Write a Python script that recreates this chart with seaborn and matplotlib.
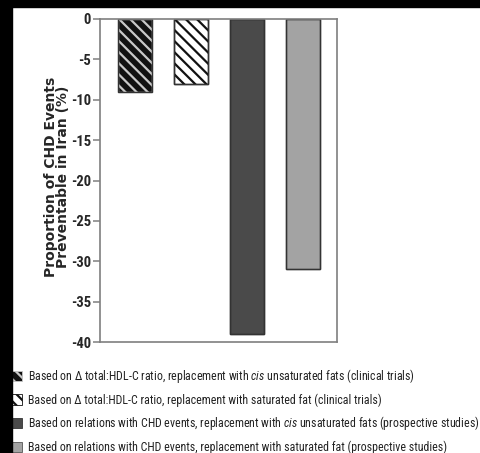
import matplotlib
matplotlib.use("Agg")
import matplotlib.pyplot as plt
import matplotlib.patches as mpatches
from matplotlib import font_manager
import seaborn as sns
import pandas as pd

# ---- data -------------------------------------------------------------
categories = ["cis_trials", "sat_trials", "cis_prospective", "sat_prospective"]
values = [-9, -8, -39, -31]
legend_labels = [
    r"Based on Δ total:HDL-C ratio, replacement with $\it{cis}$ unsaturated fats (clinical trials)",
    r"Based on Δ total:HDL-C ratio, replacement with saturated fat (clinical trials)",
    r"Based on relations with CHD events, replacement with $\it{cis}$ unsaturated fats (prospective studies)",
    r"Based on relations with CHD events, replacement with saturated fat (prospective studies)",
]
y_ticks = [0, -5, -10, -15, -20, -25, -30, -35, -40]
y_label = "Proportion of CHD Events\nPreventable in Iran (%)"

# ---- styles -----------------------------------------------------------
face_colors = ["#111111", "#ffffff", "#4a4a4a", "#a3a3a3"]
hatch_colors = ["#c8c8c8", "#111111", "#333333", "#555555"]
hatches = ["\\\\\\", "\\\\\\", "", ""]

sns.set_style("white")
available = {f.name for f in font_manager.fontManager.ttflist}
narrow = "DejaVu Sans"
for cand in ["Liberation Sans Narrow", "Arial Narrow", "Roboto Condensed",
             "Archivo Narrow", "PT Sans Narrow", "Sofia Sans Condensed"]:
    if cand in available:
        narrow = cand
        break
plt.rcParams["font.family"] = [narrow, "DejaVu Sans"]
plt.rcParams["axes.unicode_minus"] = False
plt.rcParams["hatch.linewidth"] = 1.6
plt.rcParams["mathtext.fontset"] = "custom"
plt.rcParams["mathtext.rm"] = narrow
plt.rcParams["mathtext.it"] = narrow + ":italic"

df = pd.DataFrame({"group": categories, "value": values})

fig = plt.figure(figsize=(4.81, 4.53), dpi=100)
ax = fig.add_axes([100 / 481, 1 - 342 / 453, 237 / 481, 323 / 453])

sns.barplot(data=df, x="group", y="value", hue="group", order=categories,
            hue_order=categories, palette=face_colors, legend=False,
            width=0.607, saturation=1, ax=ax)

for patch, fc, hc, h in zip(ax.patches, face_colors, hatch_colors, hatches):
    patch.set_facecolor(fc)
    patch.set_edgecolor(hc)
    patch.set_hatch(h)
    patch.set_linewidth(1.0)
    # dark outline around each bar
    ax.add_patch(mpatches.Rectangle((patch.get_x(), patch.get_y()),
                                    patch.get_width(), patch.get_height(),
                                    fill=False, edgecolor="#333333",
                                    linewidth=1.0, zorder=patch.get_zorder() + 0.1))

ax.set_xlim(-0.625, 3.616)
ax.set_ylim(-40, 0)
ax.set_xticks([])
ax.set_xlabel("")
ax.set_yticks(y_ticks)
ax.set_yticklabels([str(t) for t in y_ticks], fontsize=10.5, fontweight="bold")
ax.tick_params(axis="y", direction="out", length=5, width=1.1,
               color="#7f7f7f", pad=1.5, left=True)
for s in ax.spines.values():
    s.set_visible(True)
    s.set_color("#7f7f7f")
    s.set_linewidth(1.2)

ax.set_ylabel(y_label, fontsize=10, fontweight="bold", family="DejaVu Sans",
              va="center", linespacing=0.88)
ax.yaxis.set_label_coords(-0.182, 0.51)

# size the legend text so the longest line spans about 420 px
renderer = fig.canvas.get_renderer()
probe = fig.text(0, 0, legend_labels[3], fontsize=10)
probe_w = probe.get_window_extent(renderer).width
probe.remove()
leg_fs = 10 * 414 / probe_w
probe = fig.text(0, 0, "Based on (", fontsize=leg_fs)
text_h = probe.get_window_extent(renderer).height
probe.remove()
fs_px = leg_fs * 100 / 72
handle_h = 11
row_h = max(text_h, handle_h)

handles = [mpatches.Patch(facecolor=fc, edgecolor=hc, hatch=h, linewidth=0.6)
           for fc, hc, h in zip(face_colors, hatch_colors, hatches)]
leg = ax.legend(handles, legend_labels, loc="upper left",
                bbox_to_anchor=(7 / 481, 1 - (374 - row_h / 2) / 453),
                bbox_transform=fig.transFigure, frameon=False,
                fontsize=leg_fs, handlelength=15 / fs_px, handleheight=handle_h / fs_px,
                handletextpad=6 / fs_px, labelspacing=max(0.0, (21.3 - row_h) / fs_px),
                borderpad=0, borderaxespad=0)
for t in leg.get_texts():
    t.set_color("#222222")

# dark frame strips along the top and left edge
fig.add_artist(mpatches.Rectangle((0, 1 - 7 / 453), 1, 7 / 453,
                                  transform=fig.transFigure, color="black", zorder=5))
fig.add_artist(mpatches.Rectangle((0, 0), 12 / 481, 1,
                                  transform=fig.transFigure, color="black", zorder=5))

fig.savefig("out.png", dpi=100)
